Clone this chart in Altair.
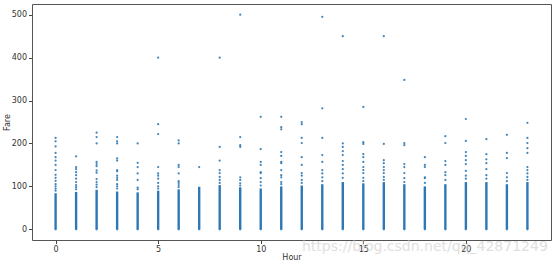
import altair as alt
import pandas as pd

hours = list(range(24))
# top of the solid (dense) part of each hour's column
dense_top = [84, 87, 92, 88, 86, 90, 93, 99, 103, 98, 95, 100,
             102, 105, 110, 107, 110, 105, 100, 105, 110, 110, 105, 110]
# sparser individual points above the dense part
outliers = {
    0: [213, 205, 193, 178, 168, 160, 150, 138, 127, 120, 113, 105, 100, 95, 90],
    1: [170, 145, 140, 133, 126, 118, 110, 103, 98, 93],
    2: [225, 215, 200, 157, 152, 147, 137, 132, 117, 110, 104, 98],
    3: [215, 205, 200, 165, 160, 138, 135, 125, 120, 115, 105, 100, 95],
    4: [200, 155, 145, 130, 115, 97, 93],
    5: [400, 245, 222, 145, 130, 125, 118, 108, 100, 95],
    6: [207, 200, 150, 145, 130, 112, 108, 103, 98],
    7: [145],
    8: [400, 192, 160, 138, 131, 122, 115, 108],
    9: [500, 215, 196, 192, 121, 115, 107, 102],
    10: [262, 187, 157, 150, 133, 131, 119, 110, 102],
    11: [262, 238, 233, 180, 171, 157, 154, 138, 126, 121, 110, 105],
    12: [250, 245, 213, 201, 168, 150, 131, 125, 115, 108],
    13: [495, 282, 213, 173, 157, 138, 130, 121, 112],
    14: [450, 200, 192, 182, 173, 159, 150, 140, 130, 120],
    15: [285, 203, 199, 175, 168, 157, 145, 138, 131, 120, 112],
    16: [450, 199, 161, 154, 145, 138, 131, 122, 115],
    17: [348, 201, 196, 152, 145, 131, 119, 110],
    18: [168, 150, 145, 121, 119, 108],
    19: [217, 201, 159, 150, 133, 126, 115],
    20: [257, 206, 180, 171, 161, 152, 136, 125, 118],
    21: [210, 175, 163, 154, 140, 126, 118],
    22: [220, 178, 166, 131, 121, 112],
    23: [248, 213, 201, 189, 178, 145, 138, 130, 122, 115],
}

x_ticks = [0, 5, 10, 15, 20]
y_ticks = [0, 100, 200, 300, 400, 500]

dense_df = pd.DataFrame({"Hour": hours, "bottom": [0] * 24, "top": dense_top})
pts = [{"Hour": h, "Fare": f} for h in hours for f in outliers[h]]
pts += [{"Hour": h, "Fare": 0} for h in hours]
pts_df = pd.DataFrame(pts)

blue = "#2e79b5"
xs = alt.Scale(domain=[-1.15, 24.15], nice=False, zero=False)
ys = alt.Scale(domain=[-25, 525], nice=False, zero=False)

x_axis = alt.Axis(values=x_ticks, title="Hour", grid=False, titleY=13)
y_axis = alt.Axis(values=y_ticks, title="Fare", grid=False, titleX=-21)

dense = alt.Chart(dense_df).mark_rule(color=blue, strokeWidth=2.4).encode(
    x=alt.X("Hour:Q", scale=xs, axis=x_axis),
    y=alt.Y("bottom:Q", scale=ys, axis=y_axis),
    y2="top:Q",
)

points = alt.Chart(pts_df).mark_circle(color=blue, size=5, opacity=0.9).encode(
    x=alt.X("Hour:Q", scale=xs),
    y=alt.Y("Fare:Q", scale=ys),
)

watermark = alt.Chart(pd.DataFrame({"t": ["https://blog.csdn.net/qq_42871249"]})).mark_text(
    align="left", baseline="middle", fontSize=14, font="DejaVu Sans",
    color="#cccccc", opacity=0.6
).encode(x=alt.value(270), y=alt.value(243), text="t:N")

chart = (dense + points + watermark).properties(
    width=519, height=236,
    autosize=alt.AutoSizeParams(type="none"),
    padding={"left": 32, "top": 4, "right": 3, "bottom": 25},
).configure_view(
    stroke="#555555", strokeWidth=1
).configure_axis(
    domain=False, tickSize=3.5, tickColor="#444444", labelColor="#333333",
    labelFontSize=8, titleFontSize=8, titleFontWeight="normal", titleColor="#333333",
    labelFont="DejaVu Sans", titleFont="DejaVu Sans", labelPadding=2,
)

chart.save("out.html", embed_options={"renderer": "svg", "actions": False})
